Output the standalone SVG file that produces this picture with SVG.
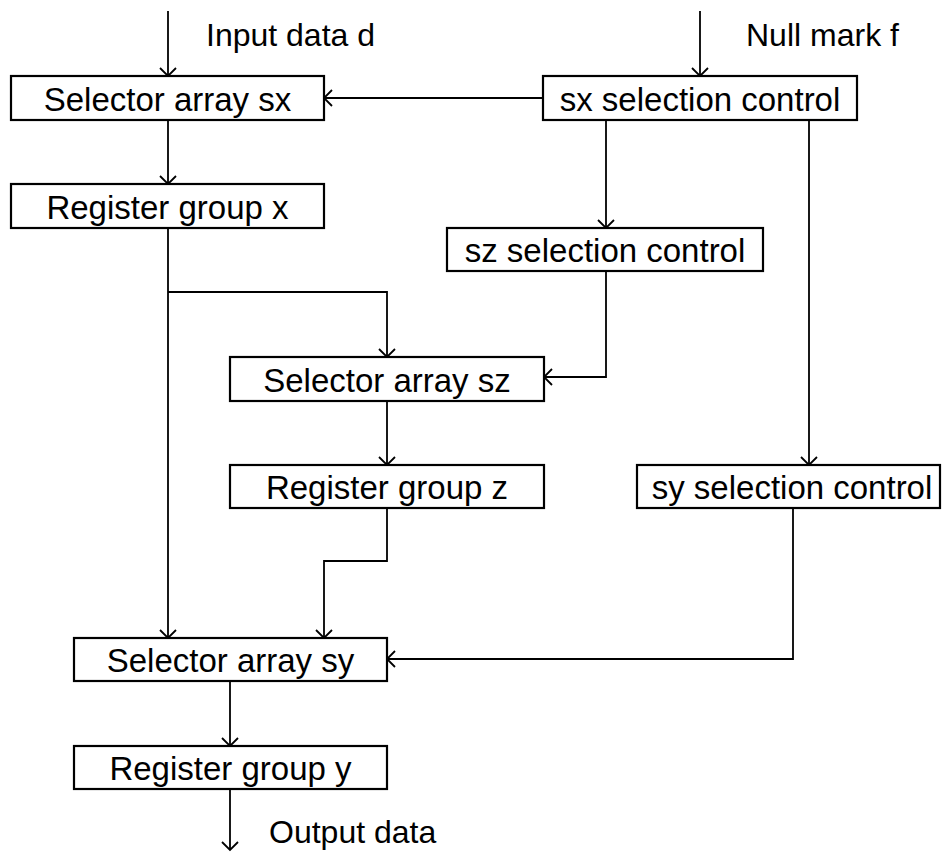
<svg xmlns="http://www.w3.org/2000/svg" width="942" height="852" viewBox="0 0 942 852">
<defs>
<marker id="arr" markerWidth="20" markerHeight="20" refX="10" refY="10" orient="auto" markerUnits="userSpaceOnUse">
<path d="M2,2 L10,10 L2,18" fill="none" stroke="#000" stroke-width="1.8"/>
</marker>
<style>
rect{fill:#fff;stroke:#000;stroke-width:2.2}
text{font-family:"Liberation Sans",Arial,sans-serif;font-size:33px;fill:#000}
.l{font-size:32px}
.c{text-anchor:middle}
#connectors path{fill:none;stroke:#000;stroke-width:1.8}
.a{marker-end:url(#arr)}
</style>
</defs>
<rect x="0" y="0" width="942" height="852" style="fill:#fff;stroke:none"/>
<g id="connectors">
<path class="a" d="M168,11 V76"/>
<path class="a" d="M700,11 V76"/>
<path class="a" d="M543,98 H324"/>
<path class="a" d="M168,120 V184"/>
<path class="a" d="M606,120 V228"/>
<path class="a" d="M809,120 V465"/>
<path class="a" d="M168,228 V638"/>
<path class="a" d="M168,292 H387 V357"/>
<path class="a" d="M606,271 V377 H544"/>
<path class="a" d="M387,401 V465"/>
<path class="a" d="M387,508 V561 H324 V638"/>
<path class="a" d="M793,508 V659 H387"/>
<path class="a" d="M230,681 V746"/>
<path class="a" d="M230,789 V850"/>
</g>
<g id="labels">
<text class="l" x="206" y="46">Input data d</text>
<text class="l" x="746" y="46">Null mark f</text>
<text class="l" x="269" y="843">Output data</text>
</g>
<g id="selector-sx"><rect x="11" y="76" width="313" height="44"/><text class="c" x="167.5" y="111">Selector array sx</text></g>
<g id="sx-control"><rect x="543" y="76" width="314" height="44"/><text class="c" x="700" y="111">sx selection control</text></g>
<g id="register-x"><rect x="11" y="184" width="313" height="44"/><text class="c" x="167.5" y="219">Register group x</text></g>
<g id="sz-control"><rect x="447" y="228" width="316" height="43"/><text class="c" x="605" y="262">sz selection control</text></g>
<g id="selector-sz"><rect x="230" y="357" width="314" height="44"/><text class="c" x="387" y="392">Selector array sz</text></g>
<g id="register-z"><rect x="230" y="465" width="314" height="43"/><text class="c" x="387" y="499">Register group z</text></g>
<g id="sy-control"><rect x="637" y="465" width="303" height="43"/><text class="c" x="792" y="499">sy selection control</text></g>
<g id="selector-sy"><rect x="74" y="638" width="313" height="43"/><text class="c" x="230.5" y="672">Selector array sy</text></g>
<g id="register-y"><rect x="74" y="746" width="313" height="43"/><text class="c" x="230.5" y="780">Register group y</text></g>
</svg>
